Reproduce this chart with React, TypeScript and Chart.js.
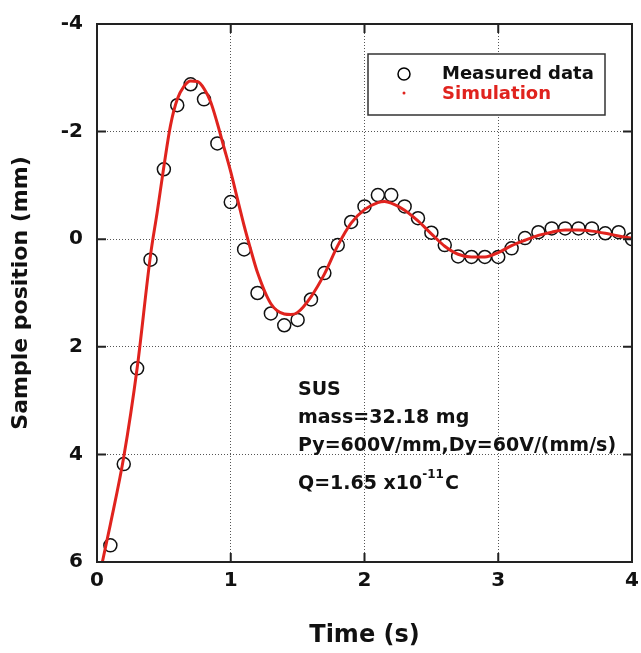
import React, { useEffect, useRef } from "react";
import { Chart, registerables } from "chart.js";

Chart.register(...registerables);

const measuredTime = [0.1, 0.2, 0.3, 0.4, 0.5, 0.6, 0.7, 0.8, 0.9, 1.0, 1.1, 1.2, 1.3, 1.4, 1.5, 1.6, 1.7, 1.8, 1.9, 2.0, 2.1, 2.2, 2.3, 2.4, 2.5, 2.6, 2.7, 2.8, 2.9, 3.0, 3.1, 3.2, 3.3, 3.4, 3.5, 3.6, 3.7, 3.8, 3.9, 4.0];
const measuredPos = [5.69, 4.18, 2.4, 0.38, -1.3, -2.49, -2.88, -2.6, -1.78, -0.69, 0.19, 1.0, 1.38, 1.6, 1.5, 1.12, 0.63, 0.11, -0.32, -0.61, -0.82, -0.82, -0.61, -0.39, -0.12, 0.11, 0.32, 0.33, 0.33, 0.33, 0.17, -0.02, -0.13, -0.2, -0.2, -0.2, -0.2, -0.11, -0.13, 0.0];

const simTime = [0.04, 0.1, 0.2, 0.3, 0.4, 0.45, 0.5, 0.55, 0.6, 0.65, 0.7, 0.75, 0.8, 0.85, 0.9, 0.95, 1.0, 1.05, 1.1, 1.15, 1.2, 1.3, 1.4, 1.45, 1.5, 1.6, 1.7, 1.8, 1.9, 2.0, 2.1, 2.15, 2.2, 2.3, 2.4, 2.5, 2.6, 2.7, 2.8, 2.9, 3.0, 3.1, 3.2, 3.3, 3.4, 3.5, 3.6, 3.7, 3.8, 3.9, 4.0];
const simPos = [6.0, 5.3, 4.05, 2.4, 0.3, -0.5, -1.35, -2.12, -2.6, -2.84, -2.94, -2.93, -2.8, -2.55, -2.15, -1.7, -1.25, -0.75, -0.25, 0.2, 0.62, 1.2, 1.39, 1.4, 1.36, 1.07, 0.65, 0.12, -0.3, -0.55, -0.68, -0.7, -0.67, -0.54, -0.34, -0.1, 0.13, 0.28, 0.33, 0.33, 0.25, 0.12, 0.02, -0.07, -0.13, -0.17, -0.17, -0.15, -0.11, -0.06, -0.02];

const xTicks = [0, 1, 2, 3, 4];
const yTicks = [-4, -2, 0, 2, 4, 6];

const legendLabels = ["Measured data", "Simulation"];
const noteLines = ["SUS", "mass=32.18 mg", "Py=600V/mm,Dy=60V/(mm/s)"];
const chargeText = ["Q=1.65 x10", "-11", "C"];

const FONT = "'DejaVu Sans', Verdana, sans-serif";
const RED = "#e0231e";

const framePlugin = {
  id: "frame",
  afterDraw(chart: any) {
    const { ctx, chartArea: a, scales } = chart;
    const xs = scales.x;
    const ys = scales.y;
    ctx.save();
    ctx.setLineDash([]);
    ctx.strokeStyle = "#222";
    ctx.lineWidth = 2;
    ctx.strokeRect(a.left, a.top, a.right - a.left, a.bottom - a.top);
    const tl = 9;
    ctx.beginPath();
    xTicks.forEach((v) => {
      const px = xs.getPixelForValue(v);
      ctx.moveTo(px, a.bottom);
      ctx.lineTo(px, a.bottom - tl);
      ctx.moveTo(px, a.top);
      ctx.lineTo(px, a.top + tl);
    });
    yTicks.forEach((v) => {
      const py = ys.getPixelForValue(v);
      ctx.moveTo(a.left, py);
      ctx.lineTo(a.left + tl, py);
      ctx.moveTo(a.right, py);
      ctx.lineTo(a.right - tl, py);
    });
    ctx.stroke();

    // legend
    const lx = a.left + 271;
    const ly = a.top + 30;
    const lw = 237;
    const lh = 61;
    ctx.fillStyle = "#fff";
    ctx.fillRect(lx, ly, lw, lh);
    ctx.strokeStyle = "#333";
    ctx.lineWidth = 1.5;
    ctx.strokeRect(lx, ly, lw, lh);
    ctx.beginPath();
    ctx.arc(lx + 36, ly + 20, 6, 0, Math.PI * 2);
    ctx.strokeStyle = "#000";
    ctx.lineWidth = 1.5;
    ctx.stroke();
    ctx.beginPath();
    ctx.arc(lx + 36, ly + 39, 1.5, 0, Math.PI * 2);
    ctx.fillStyle = RED;
    ctx.fill();
    ctx.font = `bold 18px ${FONT}`;
    ctx.textBaseline = "middle";
    ctx.textAlign = "left";
    ctx.fillStyle = "#111";
    ctx.fillText(legendLabels[0], lx + 74, ly + 20);
    ctx.fillStyle = RED;
    ctx.fillText(legendLabels[1], lx + 74, ly + 40);

    // notes
    const nx = a.left + 201;
    ctx.fillStyle = "#111";
    ctx.font = `bold 19px ${FONT}`;
    const rows = [366, 394, 422];
    noteLines.forEach((t, i) => {
      ctx.fillText(t, nx, a.top + rows[i]);
    });
    const qy = a.top + 460;
    ctx.fillText(chargeText[0], nx, qy);
    let w = ctx.measureText(chargeText[0]).width;
    ctx.font = `bold 12px ${FONT}`;
    ctx.fillText(chargeText[1], nx + w, qy - 9);
    w += ctx.measureText(chargeText[1]).width + 1;
    ctx.font = `bold 19px ${FONT}`;
    ctx.fillText(chargeText[2], nx + w, qy);
    ctx.restore();
  },
};

export default function App() {
  const ref = useRef<HTMLCanvasElement>(null);
  useEffect(() => {
    document.body.style.margin = "0";
    const chart = new Chart(ref.current!, {
      type: "scatter",
      data: {
        datasets: [
          {
            label: legendLabels[1],
            type: "line",
            data: simTime.map((t, i) => ({ x: t, y: simPos[i] })),
            borderColor: RED,
            borderWidth: 3,
            pointRadius: 0,
            cubicInterpolationMode: "monotone",
            order: 0,
          } as any,
          {
            label: legendLabels[0],
            data: measuredTime.map((t, i) => ({ x: t, y: measuredPos[i] })),
            pointStyle: "circle",
            pointRadius: 6.5,
            pointBorderWidth: 1.5,
            borderColor: "#111",
            backgroundColor: "rgba(255,255,255,0)",
            order: 1,
          },
        ],
      },
      options: {
        responsive: false,
        animation: false,
        layout: { padding: { top: 24, right: 9, left: 0, bottom: 0 } },
        plugins: { legend: { display: false }, tooltip: { enabled: false } },
        scales: {
          x: {
            type: "linear",
            min: 0,
            max: 4,
            afterFit: (s: any) => {
              s.height = 91;
              s.paddingLeft = 0;
              s.paddingRight = 0;
            },
            afterBuildTicks: (s: any) => {
              s.ticks = xTicks.map((v) => ({ value: v }));
            },
            border: { display: true, color: "#222", width: 2, dash: [1, 2] },
            grid: { color: "#555", lineWidth: 1, drawTicks: false },
            ticks: { color: "#111", font: { family: FONT, size: 20, weight: "bold" }, padding: 7, callback: (v: any) => String(v) },
            title: { display: true, text: "Time (s)", color: "#111", font: { family: FONT, size: 24, weight: "bold" }, padding: { bottom: 3, top: 0 } },
          },
          y: {
            type: "linear",
            min: -4,
            max: 6,
            reverse: true,
            afterFit: (s: any) => {
              s.width = 97;
              s.paddingTop = 0;
              s.paddingBottom = 0;
            },
            afterBuildTicks: (s: any) => {
              s.ticks = yTicks.map((v) => ({ value: v }));
            },
            border: { display: true, color: "#222", width: 2, dash: [1, 2] },
            grid: { color: "#555", lineWidth: 1, drawTicks: false },
            ticks: { color: "#111", font: { family: FONT, size: 20, weight: "bold" }, padding: 14, callback: (v: any) => String(v) },
            title: { display: true, text: "Sample position (mm)", color: "#111", font: { family: FONT, size: 22, weight: "bold" }, padding: { top: 8, bottom: 0 } },
          },
        },
      },
      plugins: [framePlugin],
    } as any);
    return () => chart.destroy();
  }, []);
  return <canvas ref={ref} width={641} height={653} style={{ display: "block" }} />;
}
